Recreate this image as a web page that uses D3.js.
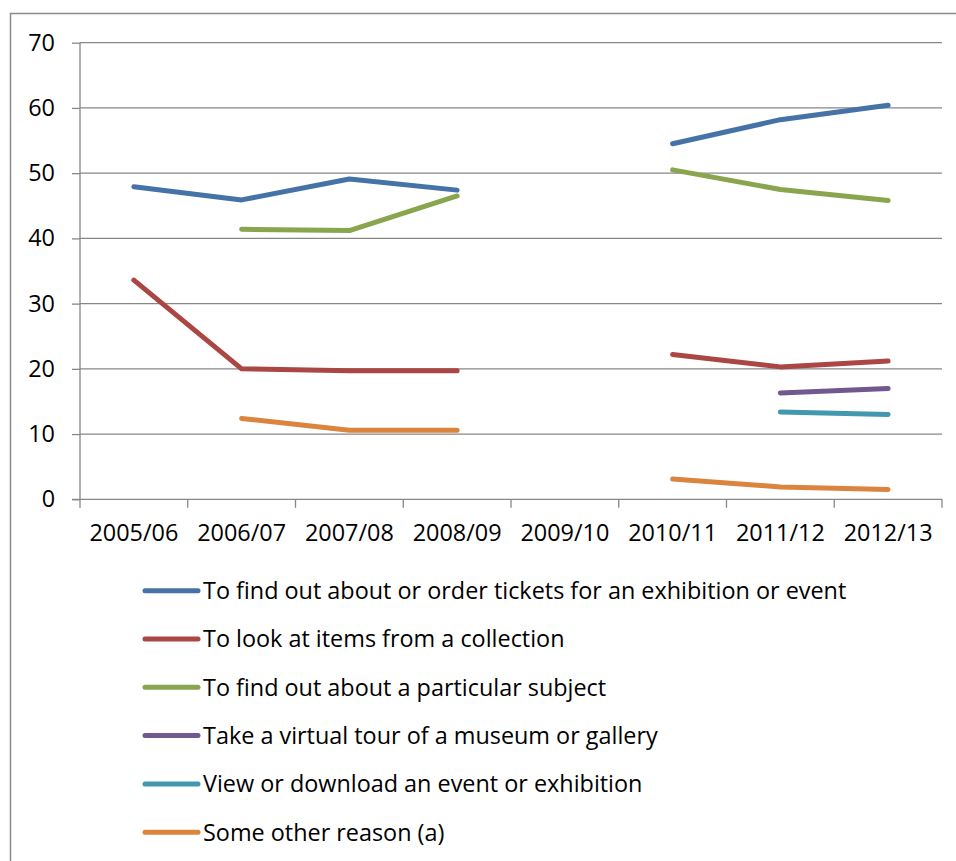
<!DOCTYPE html>
<html>
<head>
<meta charset="utf-8">
<script src="https://cdn.jsdelivr.net/npm/d3@7"></script>
<style>
  html, body { margin: 0; padding: 0; background: #fff; }
  svg { display: block; }
  text { font-family: "Open Sans", Lato, sans-serif; fill: #000; }
</style>
</head>
<body>
<svg id="chart" width="956" height="861"></svg>
<script>
const categories = ["2005/06","2006/07","2007/08","2008/09","2009/10","2010/11","2011/12","2012/13"];
const yTicks = [0, 10, 20, 30, 40, 50, 60, 70];

const seriesNames = [
  "To find out about or order tickets for an exhibition or event",
  "To look at items from a collection",
  "To find out about a particular subject",
  "Take a virtual tour of a museum or gallery",
  "View or download an event or exhibition",
  "Some other reason (a)"
];
const ticketsValues    = [47.9, 45.9, 49.1, 47.4, null, 54.5, 58.2, 60.4];
const collectionValues = [33.6, 20.0, 19.7, 19.7, null, 22.2, 20.3, 21.2];
const subjectValues    = [null, 41.4, 41.2, 46.5, null, 50.5, 47.5, 45.8];
const virtualValues    = [null, null, null, null, null, null, 16.3, 17.0];
const viewValues       = [null, null, null, null, null, null, 13.4, 13.0];
const otherValues      = [null, 12.4, 10.6, 10.6, null, 3.1, 1.9, 1.5];
const seriesColors = ["#4572A7", "#AA4643", "#89A54E", "#71588F", "#4198AF", "#DB843D"];

const seriesValues = [ticketsValues, collectionValues, subjectValues, virtualValues, viewValues, otherValues];

const svg = d3.select("#chart");
const W = 956, H = 861;
const plot = { left: 80, right: 942, top: 42.7, bottom: 499.3 };
const gridColor = "#878787";
const fontSize = "23.4px";
const fontFamily = "'Open Sans', Lato, sans-serif";

svg.append("rect").attr("width", W).attr("height", H).attr("fill", "#fff");
// outer chart border
svg.append("rect")
  .attr("x", 10.5).attr("y", 13.5).attr("width", W + 20).attr("height", H + 20)
  .attr("fill", "none").attr("stroke", "#8c8c8c").attr("stroke-width", 1.5);

const x = d3.scaleBand().domain(categories).range([plot.left, plot.right]).padding(0);
const y = d3.scaleLinear().domain([0, 70]).range([plot.bottom, plot.top]);

// gridlines
svg.append("g").selectAll("line").data(yTicks.filter(t => t > 0)).join("line")
  .attr("x1", plot.left).attr("x2", plot.right)
  .attr("y1", d => y(d)).attr("y2", d => y(d))
  .attr("stroke", gridColor).attr("stroke-width", 1.3);

// y axis
const yAxis = d3.axisLeft(y).tickValues(yTicks).tickSize(8).tickPadding(17).tickFormat(d3.format("d"));
const gy = svg.append("g").attr("transform", `translate(${plot.left},0)`).call(yAxis);
gy.select(".domain").attr("stroke", gridColor).attr("stroke-width", 1.3).attr("d", `M0,${plot.top}V${plot.bottom}`);
gy.selectAll(".tick line").attr("stroke", gridColor).attr("stroke-width", 1.3);
gy.selectAll(".tick text").style("font-family", fontFamily).style("font-size", fontSize).attr("fill", "#000");

// x axis
const xAxis = d3.axisBottom(x).tickSize(0).tickPadding(25);
const gx = svg.append("g").attr("transform", `translate(0,${plot.bottom})`).call(xAxis);
gx.select(".domain").attr("stroke", gridColor).attr("stroke-width", 1.3).attr("d", `M${plot.left - 8},0H${plot.right}`);
gx.selectAll(".tick text").style("font-family", fontFamily).style("font-size", fontSize).attr("fill", "#000");
// boundary tick marks
const boundaries = categories.map(c => x(c)).concat([x(categories[categories.length - 1]) + x.bandwidth()]);
svg.append("g").selectAll("line").data(boundaries).join("line")
  .attr("x1", d => d).attr("x2", d => d)
  .attr("y1", plot.bottom).attr("y2", plot.bottom + 8.5)
  .attr("stroke", gridColor).attr("stroke-width", 1.3);

// lines
const line = d3.line()
  .defined(d => d.v != null)
  .x(d => x(d.c) + x.bandwidth() / 2)
  .y(d => y(d.v));

seriesValues.forEach((vals, i) => {
  const pts = categories.map((c, j) => ({ c, v: vals[j] }));
  svg.append("path")
    .datum(pts)
    .attr("d", line)
    .attr("fill", "none")
    .attr("stroke", seriesColors[i])
    .attr("stroke-width", 5)
    .attr("stroke-linecap", "round")
    .attr("stroke-linejoin", "round");
});

// legend
const legend = svg.append("g");
const legY0 = 590.7, legStep = 48.3;
seriesNames.forEach((name, i) => {
  const yy = legY0 + i * legStep;
  legend.append("line")
    .attr("x1", 145).attr("x2", 198).attr("y1", yy).attr("y2", yy)
    .attr("stroke", seriesColors[i]).attr("stroke-width", 5).attr("stroke-linecap", "round");
  legend.append("text")
    .attr("x", 203).attr("y", yy).attr("dy", "0.36em")
    .style("font-family", fontFamily)
    .style("font-size", fontSize)
    .text(name);
});
</script>
</body>
</html>
